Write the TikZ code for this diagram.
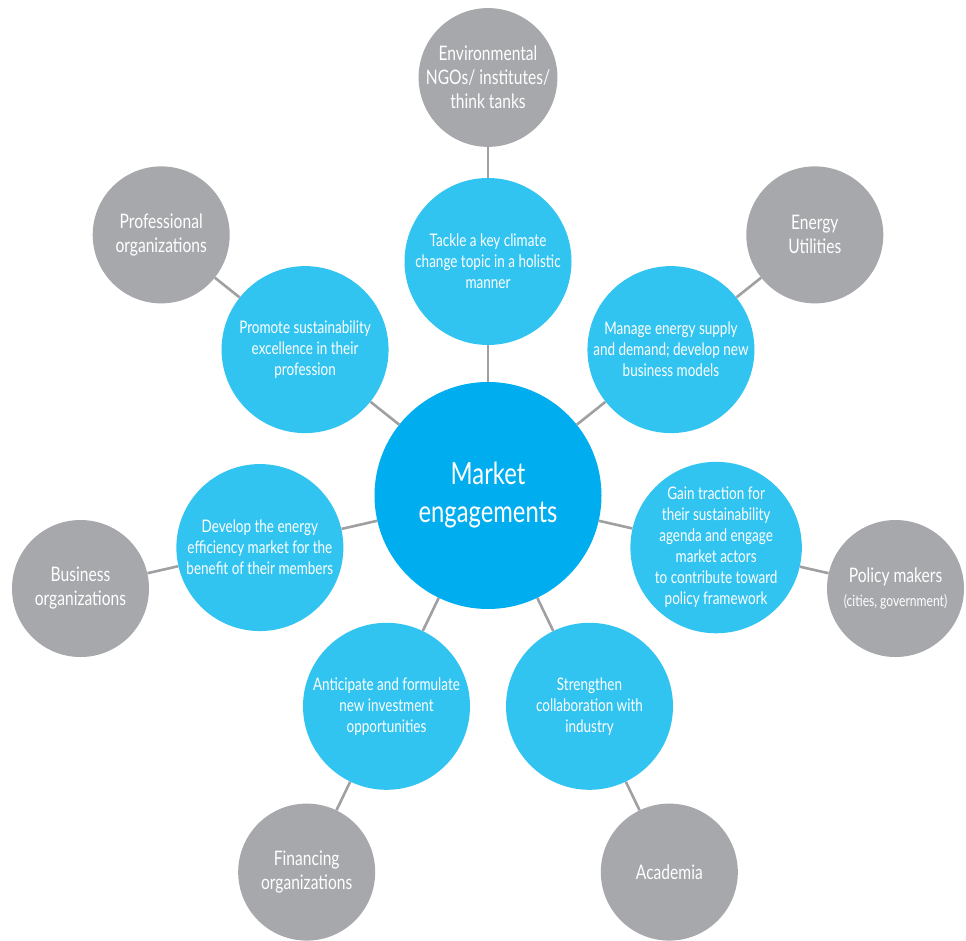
\documentclass[tikz,border=0pt]{standalone}
\usepackage{fontspec}
\setmainfont{Lato}[FakeStretch=0.78]
\usetikzlibrary{calc}
\begin{document}
\definecolor{hubblue}{RGB}{0,173,238}
\definecolor{goalblue}{RGB}{50,196,241}
\definecolor{actorgray}{RGB}{167,168,172}
\definecolor{linkgray}{RGB}{160,160,163}
\begin{tikzpicture}[x=1pt,y=1pt,
  hub/.style={circle,fill=hubblue,text=white,minimum size=227pt,inner sep=0pt,align=center,font=\fontsize{30.5}{38}\selectfont},
  goal/.style={circle,fill=goalblue,text=white,minimum size=167pt,inner sep=0pt,align=center,font=\fontsize{17.3}{21}\selectfont},
  actor/.style={circle,fill=actorgray,text=white,minimum size=137pt,inner sep=0pt,align=center,font=\fontsize{20}{24}\selectfont},
  link/.style={draw=linkgray,line width=2.6pt}]
\useasboundingbox (0,0) rectangle (966,941);

% hub
\node[hub] (c) at (488,445.5) {Market\\engagements};

% goals on the inner ring (regular heptagon)
\node[goal] (b1) at ($(c)+(90:234)$) {Tackle a key climate\\change topic in a holistic\\manner};
\node[goal] (b2) at ($(c)+(141.43:234)$) {Promote sustainability\\excellence in their\\profession};
\node[goal] (b3) at ($(c)+(38.57:234)$) {Manage energy supply\\and demand; develop new\\business models};
\node[goal] (b4) at ($(c)+(192.86:234)$) {Develop the energy\\efficiency market for the\\benefit of their members};
\node[goal] (b5) at ($(c)+(-12.86:234)$) {Gain traction for\\their sustainability\\agenda and engage\\market actors\\to contribute toward\\policy framework};
\node[goal] (b6) at ($(c)+(244.29:234)$) {Anticipate and formulate\\new investment\\opportunities};
\node[goal] (b7) at ($(c)+(-64.29:234)$) {Strengthen\\collaboration with\\industry};

% actors on the outer ring
\node[actor] (g1) at ($(c)+(90:418)$) {Environmental\\NGOs/ institutes/\\think tanks};
\node[actor] (g2) at ($(c)+(141.43:418)$) {Professional\\organizations};
\node[actor] (g3) at ($(c)+(38.57:418)$) {Energy\\Utilities};
\node[actor] (g4) at ($(c)+(192.86:418)$) {Business\\organizations};
\node[actor] (g5) at ($(c)+(-12.86:418)$) {Policy makers\\{\fontsize{15.5}{20}\selectfont (cities, government)}};
\node[actor] (g6) at ($(c)+(244.29:418)$) {Financing\\organizations};
\node[actor] (g7) at ($(c)+(-64.29:418)$) {Academia};

% spokes
\foreach \i in {1,...,7}{
  \draw[link] (c) -- (b\i);
  \draw[link] (b\i) -- (g\i);
}
\end{tikzpicture}
\end{document}
